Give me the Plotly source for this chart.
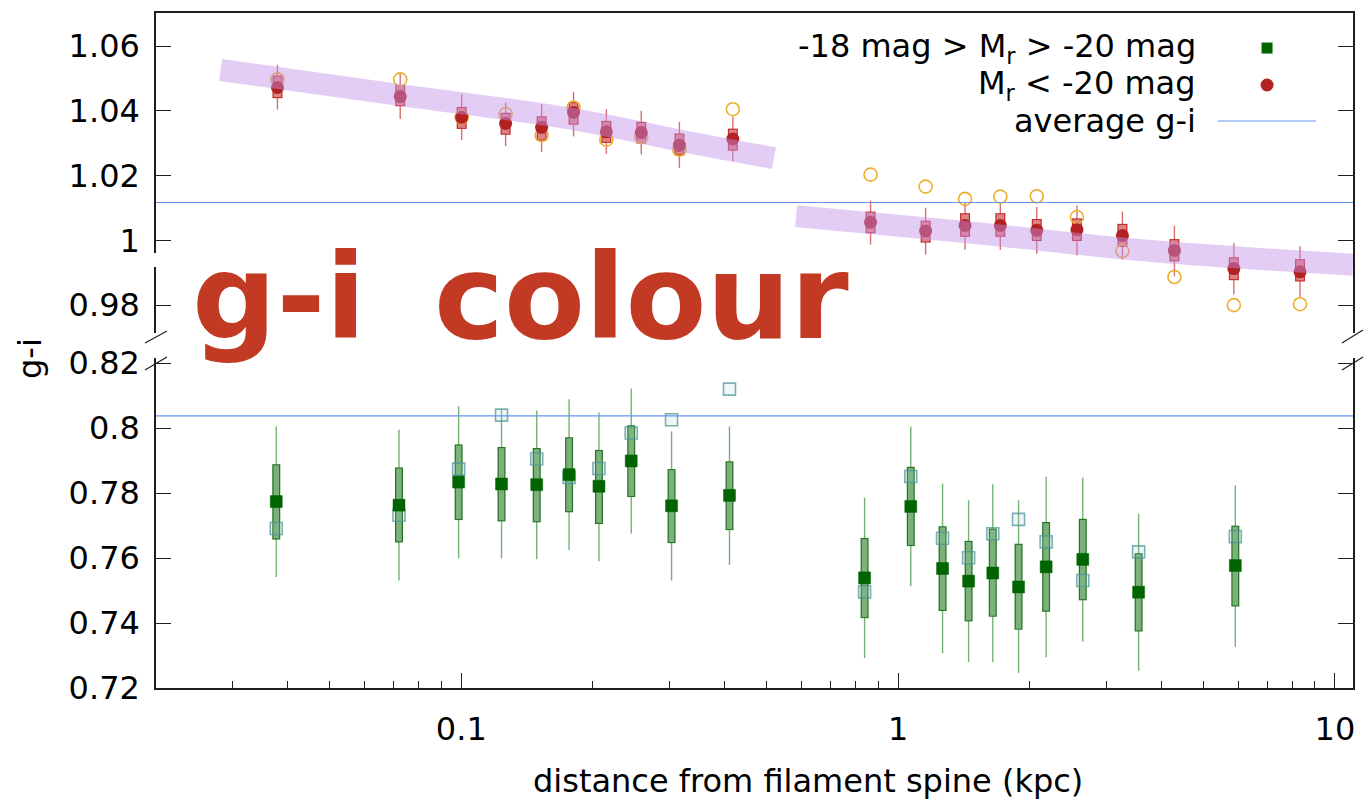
import plotly.graph_objects as go
import numpy as np

# ---------------- data ----------------
# lower panel: -18 mag > Mr > -20 mag
green_x = [0.0377, 0.0720, 0.0986, 0.1236, 0.1488, 0.1765, 0.2066, 0.2449, 0.3029, 0.4111,
           0.838, 1.069, 1.264, 1.450, 1.647, 1.887, 2.182, 2.647, 3.553, 5.915]
green_mean = [0.7774, 0.7763, 0.7834, 0.7828, 0.7826, 0.7857, 0.7821, 0.7899, 0.7761, 0.7793,
              0.7539, 0.7759, 0.7568, 0.7529, 0.7554, 0.7511, 0.7573, 0.7596, 0.7495, 0.7577]
green_box_hi = [0.7889, 0.7879, 0.7950, 0.7942, 0.7939, 0.7972, 0.7933, 0.8009, 0.7874, 0.7898,
                0.7662, 0.7881, 0.7698, 0.7653, 0.7691, 0.7644, 0.7711, 0.7721, 0.7615, 0.7700]
green_box_lo = [0.7657, 0.7648, 0.7717, 0.7713, 0.7710, 0.7741, 0.7705, 0.7788, 0.7646, 0.7686,
                0.7415, 0.7637, 0.7437, 0.7405, 0.7419, 0.7379, 0.7435, 0.7470, 0.7374, 0.7451]
green_whisk_hi = [0.8005, 0.7995, 0.8068, 0.8056, 0.8054, 0.8089, 0.8048, 0.8122, 0.7990, 0.8005,
                  0.7786, 0.8005, 0.7829, 0.7778, 0.7827, 0.7778, 0.7850, 0.7847, 0.7737, 0.7824]
green_whisk_lo = [0.7542, 0.7531, 0.7599, 0.7599, 0.7596, 0.7625, 0.7590, 0.7676, 0.7531, 0.7579,
                  0.7292, 0.7513, 0.7307, 0.7280, 0.7280, 0.7246, 0.7295, 0.7343, 0.7253, 0.7326]
green_alt = [0.7691, 0.7732, 0.7874, 0.8040, 0.7905, 0.7848, 0.7876, 0.7985, 0.8026, 0.8120,
             0.7496, 0.7851, 0.7661, 0.7601, 0.7675, 0.7719, 0.7650, 0.7531, 0.7619, 0.7666]

# upper panel: Mr < -20 mag
red_x = [0.03794, 0.07247, 0.1002, 0.1263, 0.1527, 0.1807, 0.2148, 0.2582, 0.3157, 0.4184,
         0.8647, 1.156, 1.423, 1.714, 2.077, 2.567, 3.262, 4.291, 5.870, 8.320]
red_mean = [1.0472, 1.0444, 1.0380, 1.0361, 1.0349, 1.0395, 1.0335, 1.0333, 1.0294, 1.0313,
            1.0056, 1.0029, 1.0046, 1.0046, 1.0031, 1.0033, 1.0015, 0.9969, 0.9913, 0.9903]
red_box_hi = [1.0509, 1.0479, 1.0412, 1.0394, 1.0383, 1.0427, 1.0369, 1.0366, 1.0330, 1.0345,
              1.0089, 1.0061, 1.0084, 1.0084, 1.0066, 1.0068, 1.0051, 1.0004, 0.9948, 0.9942]
red_box_lo = [1.0439, 1.0414, 1.0344, 1.0326, 1.0308, 1.0357, 1.0301, 1.0299, 1.0262, 1.0277,
              1.0022, 0.9993, 1.0011, 1.0011, 0.9998, 0.9998, 0.9980, 0.9935, 0.9877, 0.9873]
red_whisk_hi = [1.0542, 1.0515, 1.0451, 1.0426, 1.0421, 1.0459, 1.0405, 1.0400, 1.0366, 1.0382,
                1.0123, 1.0101, 1.0118, 1.0118, 1.0103, 1.0108, 1.0089, 1.0046, 0.9992, 0.9982]
red_whisk_lo = [1.0404, 1.0375, 1.0310, 1.0291, 1.0273, 1.0321, 1.0267, 1.0265, 1.0224, 1.0244,
                0.9987, 0.9956, 0.9971, 0.9971, 0.9959, 0.9954, 0.9941, 0.9889, 0.9833, 0.9824]
red_alt = [1.0497, 1.0497, 1.0380, 1.0390, 1.0325, 1.0410, 1.0311, 1.0320, 1.0280, 1.0405,
           1.0203, 1.0166, 1.0128, 1.0135, 1.0136, 1.0072, 0.9967, 0.9887, 0.9800, 0.9803]

# hand-drawn trend bands
band1_x = [0.0281, 0.0719, 0.1723, 0.3312, 0.5197]
band1_y = [1.0526, 1.0449, 1.0379, 1.0303, 1.0254]
band2_x = [0.584, 1.423, 3.80, 11.0]
band2_y = [1.0075, 1.0026, 0.9967, 0.9925]

avg_upper = 1.0117
avg_lower = 0.8038

upper_ticks = [0.98, 1.00, 1.02, 1.04, 1.06]
upper_ticktext = ["0.98", "1", "1.02", "1.04", "1.06"]
lower_ticks = [0.72, 0.74, 0.76, 0.78, 0.80, 0.82]
lower_ticktext = ["0.72", "0.74", "0.76", "0.78", "0.8", "0.82"]
x_ticks = [0.1, 1, 10]
x_ticktext = ["0.1", "1", "10"]
x_minor = [0.02, 0.03, 0.04, 0.05, 0.06, 0.07, 0.08, 0.09,
           0.2, 0.3, 0.4, 0.5, 0.6, 0.7, 0.8, 0.9,
           2, 3, 4, 5, 6, 7, 8, 9]

FONT = "DejaVu Sans"
FS = 32
AXC = "rgb(30,30,30)"
ORANGE = "rgb(235,175,45)"

def err(hi, lo, mid):
    return dict(type="data", symmetric=False,
                array=[h - m for h, m in zip(hi, mid)],
                arrayminus=[m - l for m, l in zip(mid, lo)])

fig = go.Figure()

# ---------- lower panel ----------
fig.add_trace(go.Scatter(x=green_x, y=green_mean, xaxis="x", yaxis="y2", mode="markers",
                         marker=dict(size=1, color="rgba(0,0,0,0)"),
                         error_y=dict(**err(green_whisk_hi, green_whisk_lo, green_mean),
                                      thickness=1.4, width=0, color="rgba(40,140,40,0.65)"),
                         showlegend=False, hoverinfo="skip"))
fig.add_trace(go.Scatter(x=green_x, y=green_mean, xaxis="x", yaxis="y2", mode="markers",
                         marker=dict(size=1, color="rgba(0,0,0,0)"),
                         error_y=dict(**err(green_box_hi, green_box_lo, green_mean),
                                      thickness=8, width=0, color="rgb(40,115,40)"),
                         showlegend=False, hoverinfo="skip"))
inset = 0.00035
fig.add_trace(go.Scatter(x=green_x, y=green_mean, xaxis="x", yaxis="y2", mode="markers",
                         marker=dict(size=1, color="rgba(0,0,0,0)"),
                         error_y=dict(**err([h - inset for h in green_box_hi],
                                            [l + inset for l in green_box_lo], green_mean),
                                      thickness=5.5, width=0, color="rgb(122,178,122)"),
                         showlegend=False, hoverinfo="skip"))
fig.add_trace(go.Scatter(x=green_x, y=green_alt, xaxis="x", yaxis="y2", mode="markers",
                         marker=dict(symbol="square", size=12, color="rgba(150,200,205,0.15)",
                                     line=dict(color="rgba(80,150,155,0.75)", width=1.6)),
                         showlegend=False, hoverinfo="skip"))
fig.add_trace(go.Scatter(x=green_x, y=green_mean, xaxis="x", yaxis="y2", mode="markers",
                         marker=dict(symbol="square", size=12, color="#006400",
                                     line=dict(color="rgba(0,100,0,0.6)", width=0.8)),
                         showlegend=False, hoverinfo="skip"))

# ---------- upper panel ----------
fig.add_trace(go.Scatter(x=red_x, y=red_mean, xaxis="x2", yaxis="y", mode="markers",
                         marker=dict(size=1, color="rgba(0,0,0,0)"),
                         error_y=dict(**err(red_whisk_hi, red_whisk_lo, red_mean),
                                      thickness=1.4, width=0, color="rgba(200,50,50,0.7)"),
                         showlegend=False, hoverinfo="skip"))
fig.add_trace(go.Scatter(x=red_x, y=red_mean, xaxis="x2", yaxis="y", mode="markers",
                         marker=dict(size=1, color="rgba(0,0,0,0)"),
                         error_y=dict(**err(red_box_hi, red_box_lo, red_mean),
                                      thickness=10, width=0, color="rgb(195,45,45)"),
                         showlegend=False, hoverinfo="skip"))
fig.add_trace(go.Scatter(x=red_x, y=red_mean, xaxis="x2", yaxis="y", mode="markers",
                         marker=dict(size=1, color="rgba(0,0,0,0)"),
                         error_y=dict(**err([h - inset for h in red_box_hi],
                                            [l + inset for l in red_box_lo], red_mean),
                                      thickness=7.5, width=0, color="rgb(222,130,130)"),
                         showlegend=False, hoverinfo="skip"))
fig.add_trace(go.Scatter(x=red_x, y=red_alt, xaxis="x2", yaxis="y", mode="markers",
                         marker=dict(symbol="circle-open", size=13, color=ORANGE,
                                     line=dict(color=ORANGE, width=1.6)),
                         showlegend=False, hoverinfo="skip"))
fig.add_trace(go.Scatter(x=red_x, y=red_mean, xaxis="x2", yaxis="y", mode="markers",
                         marker=dict(symbol="circle", size=13, color="#B22222",
                                     line=dict(width=0)),
                         showlegend=False, hoverinfo="skip"))
# lavender bands on top
for bx, by in ((band1_x, band1_y), (band2_x, band2_y)):
    fig.add_trace(go.Scatter(x=bx, y=by, xaxis="x2", yaxis="y", mode="lines",
                             line=dict(color="rgba(195,145,232,0.45)", width=22, shape="spline"),
                             showlegend=False, hoverinfo="skip"))

# ---------- layout ----------
shapes = [
    dict(type="line", xref="paper", yref="y", x0=0, x1=1, y0=avg_upper, y1=avg_upper,
         line=dict(color="rgb(100,150,235)", width=1.2)),
    dict(type="line", xref="paper", yref="y2", x0=0, x1=1, y0=avg_lower, y1=avg_lower,
         line=dict(color="rgb(100,150,235)", width=1.2)),
]
# axis break marks
for (x0, y0, x1, y1) in [(-0.0092, 0.5111, 0.0092, 0.5289), (-0.0092, 0.4711, 0.0092, 0.4904),
                         (0.9908, 0.5111, 1.0084, 0.5304), (0.9908, 0.4711, 1.0084, 0.4904)]:
    shapes.append(dict(type="line", xref="paper", yref="paper", x0=x0, y0=y0, x1=x1, y1=y1,
                       line=dict(color=AXC, width=1.2)))
# small gap in left axis line (covered by the overlaid label in the original)
shapes.append(dict(type="rect", xref="paper", yref="paper", x0=-0.005, x1=0.004, y0=0.6237, y1=0.6444,
                   fillcolor="white", line=dict(width=0), layer="above"))
# legend symbols
shapes.append(dict(type="rect", xref="paper", yref="paper", xsizemode="pixel", ysizemode="pixel",
                   xanchor=0.9282, yanchor=0.9481, x0=-5.5, x1=5.5, y0=-5.5, y1=5.5,
                   fillcolor="#006400", line=dict(width=0)))
shapes.append(dict(type="circle", xref="paper", yref="paper", xsizemode="pixel", ysizemode="pixel",
                   xanchor=0.9282, yanchor=0.8933, x0=-6.5, x1=6.5, y0=-6.5, y1=6.5,
                   fillcolor="#B22222", line=dict(width=0)))
shapes.append(dict(type="line", xref="paper", yref="paper", x0=0.8872, x1=0.9691, y0=0.840, y1=0.840,
                   line=dict(color="rgb(100,150,235)", width=1.2)))

annotations = [
    dict(text="-18 mag > M<sub>r</sub> > -20 mag", xref="paper", yref="paper", x=0.8705, y=0.9481,
         xanchor="right", yanchor="middle", showarrow=False, font=dict(family=FONT, size=FS, color="black")),
    dict(text="M<sub>r</sub> < -20 mag", xref="paper", yref="paper", x=0.8705, y=0.8933,
         xanchor="right", yanchor="middle", showarrow=False, font=dict(family=FONT, size=FS, color="black")),
    dict(text="average g-i", xref="paper", yref="paper", x=0.8705, y=0.840,
         xanchor="right", yanchor="middle", showarrow=False, font=dict(family=FONT, size=FS, color="black")),
    dict(text="g-i", xref="paper", yref="paper", x=-0.1053, y=0.4889, textangle=-90,
         xanchor="center", yanchor="middle", showarrow=False, font=dict(family=FONT, size=FS, color="black")),
    dict(text="distance from filament spine (kpc)", xref="paper", yref="paper", x=0.5447, y=-0.1378,
         xanchor="center", yanchor="middle", showarrow=False, font=dict(family=FONT, size=FS, color="black")),
    dict(text="<b>g-i</b>", xref="paper", yref="paper", x=0.0284, y=0.580,
         xanchor="left", yanchor="middle", showarrow=False, font=dict(family=FONT, size=118, color="rgb(195,58,36)")),
    dict(text="<b>colour</b>", xref="paper", yref="paper", x=0.2306, y=0.580,
         xanchor="left", yanchor="middle", showarrow=False, font=dict(family=FONT, size=118, color="rgb(195,58,36)")),
]

xr = [np.log10(0.02), np.log10(11)]
fig.update_layout(
    width=1364, height=803,
    margin=dict(l=156, r=11, t=13, b=115, autoexpand=False),
    paper_bgcolor="white", plot_bgcolor="white",
    showlegend=False,
    font=dict(family=FONT, size=FS, color="black"),
    xaxis=dict(type="log", range=xr, domain=[0, 1], anchor="y2", automargin=False,
               tickvals=x_ticks, ticktext=x_ticktext, ticks="inside", ticklen=15, tickwidth=1.2,
               tickcolor=AXC, showline=True, linecolor=AXC, linewidth=1.5, mirror=False,
               showgrid=False, zeroline=False, tickfont=dict(family=FONT, size=FS),
               ticklabelstandoff=12,
               minor=dict(tickvals=x_minor, ticks="inside", ticklen=7, tickwidth=1, tickcolor=AXC,
                          showgrid=False)),
    xaxis2=dict(type="log", range=xr, domain=[0, 1], anchor="y", matches="x", side="top",
                automargin=False,
                showticklabels=False, ticks="", showline=True, linecolor=AXC, linewidth=1.5,
                showgrid=False, zeroline=False),
    yaxis=dict(domain=[0.5259, 1], anchor="x2", range=[0.9714, 1.0702], automargin=False,
               tickvals=upper_ticks, ticktext=upper_ticktext, ticks="inside", ticklen=15, tickwidth=1.2,
               tickcolor=AXC, showline=True, linecolor=AXC, linewidth=1.5, mirror="ticks",
               showgrid=False, zeroline=False, tickfont=dict(family=FONT, size=FS),
               ticklabelstandoff=8),
    yaxis2=dict(domain=[0, 0.4889], anchor="x", range=[0.72, 0.8216], automargin=False,
                tickvals=lower_ticks, ticktext=lower_ticktext, ticks="inside", ticklen=15, tickwidth=1.2,
                tickcolor=AXC, showline=True, linecolor=AXC, linewidth=1.5, mirror="ticks",
                showgrid=False, zeroline=False, tickfont=dict(family=FONT, size=FS),
                ticklabelstandoff=8),
    shapes=shapes,
    annotations=annotations,
)

fig.write_html("out.html")
